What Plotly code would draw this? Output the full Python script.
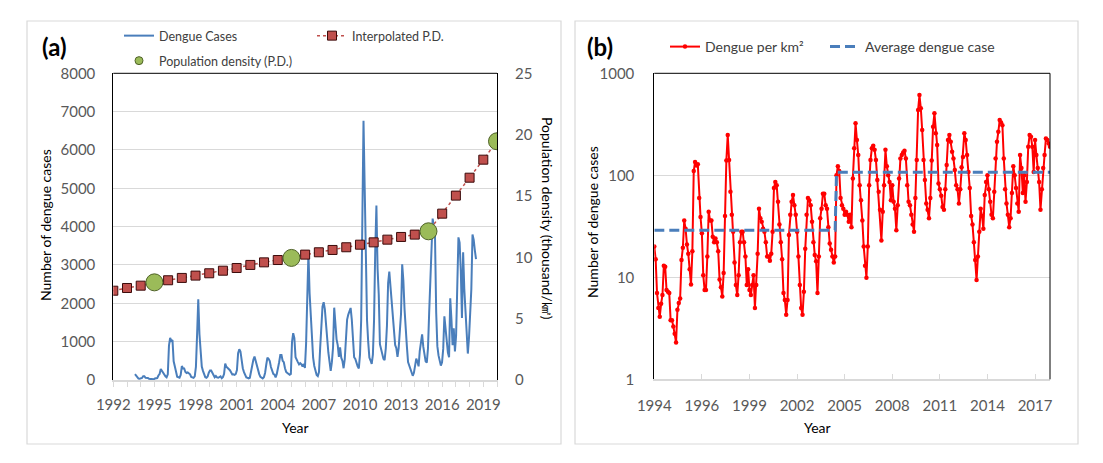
import plotly.graph_objects as go

W, H = 1103, 463

# ---------------- DATA ----------------
# Panel (b): monthly dengue cases per km^2, Jan 1994 - Apr 2018 (one row per year)
dengue_per_km2 = [
    20, 15, 7, 5, 4.1, 5.5, 6.7, 13, 12.7, 7.5, 7.2, 7.0,            # 1994
    3.8, 3.8, 3.3, 2.8, 2.3, 4.8, 5.6, 6.2, 14.8, 19.5, 36, 30,       # 1995
    21, 17, 12, 8.5, 18, 110, 135, 125, 128, 60, 39, 27,              # 1996
    10.5, 7.5, 7.5, 16, 44, 36, 36, 25, 22, 24, 22, 18,               # 1997
    9.5, 8, 6.5, 11, 40, 140, 248, 141, 69, 41, 28, 14,               # 1998
    8.4, 6.7, 10.5, 22, 28, 28, 22, 16, 8.4, 12, 7.5, 6.7,            # 1999
    8.4, 10.5, 5.0, 8.4, 17, 47, 38, 35, 30, 28, 22, 16,              # 2000
    16, 14.5, 17, 28, 75, 86, 80, 55, 33, 22, 15, 7,                  # 2001
    6, 4.3, 6, 26, 41, 55, 64, 51, 41, 28, 16, 8.4,                   # 2002
    5, 4.3, 7.2, 19, 41, 60, 57, 51, 35, 22, 16.5, 14.4,              # 2003
    7, 16, 38, 47, 66, 66, 51, 47, 31, 21.5, 18.6, 16,                # 2004
    14, 16, 100, 123, 110, 60, 51, 47, 41, 44, 41, 35,                # 2005
    41, 31, 93, 184, 324, 222, 158, 80, 57, 36, 20, 13,               # 2006
    9.9, 20, 80, 141, 184, 195, 178, 141, 90, 69, 46, 23,             # 2007
    44, 80, 178, 123, 100, 86, 57, 80, 55, 47, 29, 51,                # 2008
    93, 146, 158, 167, 174, 146, 80, 55, 51, 41, 33, 28,              # 2009
    60, 141, 437, 612, 454, 278, 141, 90, 53, 46, 38, 60,             # 2010
    140, 300, 405, 258, 198, 83, 73, 63, 49, 46, 73, 126,             # 2011
    222, 248, 213, 170, 146, 113, 80, 73, 53, 73, 120, 151,           # 2012
    258, 222, 158, 108, 75, 40, 33, 22, 14.8, 9.4, 16, 28,            # 2013
    47, 40, 30, 64, 86, 100, 73, 55, 41, 38, 69, 146,                 # 2014
    213, 267, 348, 330, 310, 146, 73, 53, 41, 31, 38, 67,             # 2015
    123, 100, 75, 53, 44, 158, 118, 67, 100, 55, 86, 191,             # 2016
    248, 239, 191, 108, 222, 158, 118, 86, 46, 73, 118, 158,          # 2017
    230, 222, 205, 191,                                               # 2018
]

# Panel (a): monthly dengue cases (same months)
dengue_cases = [
    154, 116, 54, 39, 32, 42, 52, 100, 98, 58, 55, 54,
    30, 30, 26, 22, 18, 38, 45, 50, 118, 156, 288, 240,
    171, 138, 98, 69, 147, 895, 1099, 1018, 1042, 488, 317, 220,
    87, 62, 62, 133, 365, 299, 299, 208, 183, 199, 183, 149,
    81, 68, 55, 94, 340, 1190, 2108, 1199, 587, 349, 238, 119,
    73, 59, 92, 192, 245, 245, 192, 140, 73, 105, 66, 59,
    76, 96, 46, 76, 155, 428, 346, 319, 273, 255, 200, 146,
    149, 135, 158, 260, 698, 800, 744, 512, 307, 205, 140, 65,
    57, 41, 57, 248, 392, 525, 611, 487, 392, 267, 153, 80,
    49, 42, 70, 184, 398, 582, 553, 495, 340, 213, 160, 140,
    69, 158, 374, 463, 650, 650, 502, 463, 305, 212, 183, 158,
    139, 159, 993, 1221, 1092, 596, 506, 467, 407, 437, 407, 348,
    418, 316, 949, 1877, 3305, 2264, 1612, 816, 581, 367, 204, 133,
    103, 208, 832, 1466, 1914, 2028, 1851, 1466, 936, 718, 478, 239,
    466, 848, 1887, 1304, 1060, 912, 604, 848, 583, 498, 307, 541,
    1004, 1577, 1706, 1804, 1879, 1577, 864, 594, 551, 443, 356, 302,
    663, 1558, 4829, 6763, 5017, 3072, 1558, 995, 586, 508, 420, 663,
    1574, 3372, 4552, 2900, 2226, 933, 821, 708, 551, 517, 821, 1416,
    2531, 2827, 2428, 1938, 1664, 1288, 912, 832, 604, 832, 1368, 1721,
    3019, 2597, 1849, 1264, 878, 468, 386, 257, 173, 110, 187, 328,
    559, 476, 357, 762, 1023, 1190, 869, 655, 488, 452, 821, 1737,
    2577, 3231, 4211, 3993, 3751, 1767, 883, 641, 496, 375, 460, 811,
    1661, 1350, 1013, 716, 594, 2133, 1593, 905, 1350, 743, 1161, 2579,
    3720, 3585, 2865, 1620, 3330, 2370, 1770, 1290, 690, 1095, 1770, 2370,
    3795, 3663, 3383, 3152,
]

# Interpolated population density (thousand / km^2), every year 1992-2020
interp_years = list(range(1992, 2021))
interp_pd = [7.28, 7.50, 7.69, 7.96, 8.13, 8.32, 8.51, 8.70, 8.91, 9.13,
             9.38, 9.59, 9.78, 9.95, 10.22, 10.41, 10.60, 10.82, 11.03, 11.22,
             11.44, 11.66, 11.85, 12.12, 13.56, 15.03, 16.49, 17.96, 19.46]

# Census population density
census_years = [1995, 2005, 2015, 2020]
census_pd = [7.96, 9.95, 12.12, 19.46]

# Average dengue case (per km^2) for the two periods
avg_period1 = 29
avg_period2 = 107
avg_break_month = 134   # first month index of the second period (Mar 2005)

a_tick_years = [1992, 1995, 1998, 2001, 2004, 2007, 2010, 2013, 2016, 2019]
b_tick_month_idx = [0, 35, 70, 105, 140, 175, 210, 245, 280]
b_tick_labels = ["1994", "1996", "1999", "2002", "2005", "2008", "2011", "2014", "2017"]

# ---------------- helpers ----------------
OFF = 8  # page body margin of the html page

def px(x):
    return (x - OFF) / W

def py(y):
    return 1 - (y - OFF) / H

months = list(range(len(dengue_per_km2)))
avg_line = [avg_period1 if m < avg_break_month else avg_period2 for m in months]

FONT = "Lato"
TICKC = "#595959"
BLUE = "#4A7EBB"
GRID = "#D9D9D9"
GREEN = "#9BBB59"
GREEN_EDGE = "#4F6228"

# plot areas (pixels in the screenshot)
A_L, A_R, A_T, A_B = 113.3, 497.0, 73.3, 380.0
B_L, B_R, B_T, B_B = 654.3, 1050.0, 73.3, 379.3

fig = go.Figure()

# ---- panel (a) ----
fig.add_trace(go.Scatter(
    x=months, y=dengue_cases, mode="lines", name="Dengue Cases",
    line=dict(color=BLUE, width=2), xaxis="x", yaxis="y", legend="legend"))
fig.add_trace(go.Scatter(
    x=interp_years, y=interp_pd, mode="lines+markers", name="Interpolated P.D.",
    line=dict(color="#C0504D", width=1.5, dash="dot"),
    marker=dict(symbol="square", size=9, color="#C0504D",
                line=dict(color="#3B0B0B", width=1)),
    xaxis="x3", yaxis="y2", legend="legend2"))
fig.add_trace(go.Scatter(
    x=census_years, y=census_pd, mode="markers", name="Population density (P.D.)",
    marker=dict(symbol="circle", size=17, color=GREEN,
                line=dict(color=GREEN_EDGE, width=1)),
    xaxis="x3", yaxis="y2", showlegend=False, legendgroup="pd"))
# legend entry (small symbol, as in the original legend)
fig.add_trace(go.Scatter(
    x=[None], y=[None], mode="markers", name="Population density (P.D.)",
    marker=dict(symbol="circle", size=8, color=GREEN,
                line=dict(color=GREEN_EDGE, width=1)),
    xaxis="x3", yaxis="y2", legend="legend3", legendgroup="pd"))

# ---- panel (b) ----
fig.add_trace(go.Scatter(
    x=months, y=dengue_per_km2, mode="lines+markers", name="Dengue per km²",
    line=dict(color="#FF0000", width=2),
    marker=dict(symbol="circle", size=4.5, color="#FF0000"),
    xaxis="x2", yaxis="y3", legend="legend4"))
fig.add_trace(go.Scatter(
    x=months, y=avg_line, mode="lines", name="Average dengue case",
    line=dict(color=BLUE, width=3, dash="10px,5px"),
    xaxis="x2", yaxis="y3", legend="legend5"))

tickfont = dict(family=FONT, size=15, color=TICKC)

fig.update_layout(
    width=W, height=H, autosize=False, showlegend=True,
    margin=dict(l=0, r=0, t=0, b=0, autoexpand=False),
    paper_bgcolor="white", plot_bgcolor="white",
    font=dict(family=FONT, color="#000000"),
    xaxis=dict(domain=[px(A_L), px(A_R)], range=[-18.5, 308.9], anchor="y",
               visible=False, automargin=False),
    xaxis3=dict(domain=[px(A_L), px(A_R)], range=[1992, 2020], anchor="y2",
                overlaying="x", side="bottom",
                tickvals=a_tick_years, ticks="outside", ticklen=5, tickcolor=GRID,
                minor=dict(dtick=1, ticks="outside", ticklen=5, tickcolor=GRID),
                showline=True, linecolor=GRID, linewidth=1.5, showgrid=False,
                zeroline=False, tickfont=tickfont, ticklabelstandoff=5,
                automargin=False),
    yaxis=dict(domain=[py(A_B), py(A_T)], range=[0, 8000], dtick=1000, anchor="x",
               showgrid=True, gridcolor=GRID, gridwidth=1, zeroline=False,
               showline=True, linecolor="#000000", linewidth=1,
               ticks="", tickfont=tickfont, ticklabelstandoff=14, automargin=False),
    yaxis2=dict(range=[0, 25], dtick=5, overlaying="y", side="right", anchor="x3",
                showgrid=False, zeroline=False, showline=True, linecolor="#000000",
                linewidth=1, ticks="", tickfont=tickfont, ticklabelstandoff=14,
                automargin=False),
    xaxis2=dict(domain=[px(B_L), px(B_R)], range=[0, len(months) - 1], anchor="y3",
                tickvals=b_tick_month_idx, ticktext=b_tick_labels,
                ticks="inside", ticklen=6, tickcolor=GRID,
                showline=True, linecolor=GRID, linewidth=1.5, showgrid=False,
                zeroline=False, tickfont=tickfont, ticklabelstandoff=12,
                automargin=False),
    yaxis3=dict(domain=[py(B_B), py(B_T)], type="log", range=[0, 3], anchor="x2",
                tickvals=[1, 10, 100, 1000], ticktext=["1", "10", "100", "1000"],
                showgrid=True, gridcolor=GRID, gridwidth=1, zeroline=False,
                showline=True, linecolor="#000000", linewidth=1,
                ticks="", tickfont=tickfont, ticklabelstandoff=16, automargin=False),
)

leg_common = dict(bgcolor="rgba(0,0,0,0)", borderwidth=0, orientation="h",
                  xanchor="left", yanchor="middle", itemwidth=30, visible=True)
legfont_a = dict(family=FONT, size=12.5, color="#404040")
legfont_b = dict(family=FONT, size=14, color="#404040")
fig.update_layout(
    legend=dict(x=px(119), y=py(36), font=legfont_a, **leg_common),
    legend2=dict(x=px(312), y=py(36), font=legfont_a, **leg_common),
    legend3=dict(x=px(119), y=py(61), font=legfont_a, **leg_common),
    legend4=dict(x=px(665), y=py(47), font=legfont_b, **leg_common),
    legend5=dict(x=px(825), y=py(47), font=legfont_b, **leg_common),
)

shapes = []
# outer frame line on the left
shapes.append(dict(type="line", xref="paper", yref="paper", x0=px(3), x1=px(3), y0=py(470), y1=py(8),
                   line=dict(color="#000000", width=2)))
# panel frames
for (l, r) in [(27, 561), (575, 1078)]:
    shapes.append(dict(type="rect", xref="paper", yref="paper", x0=px(l), x1=px(r),
                       y0=py(444), y1=py(21), line=dict(color=GRID, width=1.2), layer="below"))
# plot-area borders
shapes.append(dict(type="line", xref="paper", yref="paper", x0=px(A_L), x1=px(A_R),
                   y0=py(A_T), y1=py(A_T), line=dict(color="#000000", width=1)))
shapes.append(dict(type="line", xref="paper", yref="paper", x0=px(B_L), x1=px(B_R),
                   y0=py(B_T), y1=py(B_T), line=dict(color="#000000", width=1)))
shapes.append(dict(type="line", xref="paper", yref="paper", x0=px(B_R), x1=px(B_R),
                   y0=py(B_B), y1=py(B_T), line=dict(color="#000000", width=1)))
fig.update_layout(shapes=shapes)

ann = []
def add_text(text, x, y, size, angle=0, bold=False, color="#000000"):
    ann.append(dict(text=("<b>%s</b>" % text) if bold else text, x=px(x), y=py(y),
                    xref="paper", yref="paper", showarrow=False, textangle=angle,
                    xanchor="center", yanchor="middle",
                    font=dict(family=FONT, size=size, color=color)))

add_text("(a)", 54, 47, 24, bold=True)
add_text("(b)", 600, 47, 24, bold=True)
add_text("Number of dengue cases", 45, 225, 14, angle=-90)
add_text("Population density (thousand/㎢)", 548, 218, 14, angle=90)
add_text("Year", 295, 427, 14)
add_text("Number of dengue cases", 592, 222, 14, angle=-90)
add_text("Year", 817, 427, 14)
fig.update_layout(annotations=ann)

fig.write_html("out.html")
